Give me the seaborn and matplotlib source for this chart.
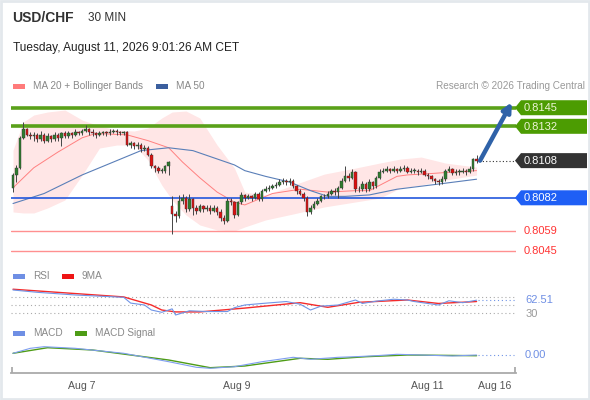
import numpy as np
import pandas as pd
import matplotlib
matplotlib.use("Agg")
import matplotlib.pyplot as plt
import seaborn as sns
from matplotlib.patches import Polygon, Rectangle

# ---- data ----
first_open = 0.8089
gap_opens = {46: 0.8076}   # opening gap candle

closes = [
    0.8098, 0.8103, 0.8124, 0.8130, 0.8126, 0.8125, 0.8126, 0.8123, 0.8126, 0.8122,
    0.8125, 0.8123, 0.8126, 0.8124, 0.8127, 0.8125, 0.8127, 0.8126, 0.8128, 0.8127,
    0.8129, 0.8130, 0.8128, 0.8127, 0.8126, 0.8127, 0.8128, 0.8127, 0.8128, 0.8129,
    0.8128, 0.8127, 0.8128, 0.8119, 0.8120, 0.8118, 0.8119, 0.8116, 0.8117, 0.8112,
    0.8104, 0.8103, 0.8101, 0.8101, 0.8104, 0.8107, 0.8071, 0.8069, 0.8080, 0.8082,
    0.8074, 0.8081, 0.8075, 0.8073, 0.8076, 0.8074, 0.8075, 0.8073, 0.8075, 0.8072,
    0.8068, 0.8066, 0.8080, 0.8079, 0.8070, 0.8079, 0.8084, 0.8082, 0.8083, 0.8082,
    0.8085, 0.8081, 0.8087, 0.8088, 0.8089, 0.8090, 0.8091, 0.8093, 0.8094, 0.8093,
    0.8094, 0.8090, 0.8087, 0.8085, 0.8082, 0.8072, 0.8075, 0.8078, 0.8080, 0.8083,
    0.8083, 0.8085, 0.8087, 0.8086, 0.8089, 0.8094, 0.8097, 0.8096, 0.8100, 0.8088,
    0.8088, 0.8092, 0.8088, 0.8093, 0.8090, 0.8096, 0.8100, 0.8101, 0.8102, 0.8101,
    0.8102, 0.8101, 0.8102, 0.8103, 0.8100, 0.8101, 0.8101, 0.8100, 0.8101, 0.8098,
    0.8097, 0.8095, 0.8094, 0.8093, 0.8095, 0.8101, 0.8102, 0.8099, 0.8100, 0.8100,
    0.8101, 0.8100, 0.8102, 0.8109, 0.8108,
]
highs = [
    0.8099, 0.8105, 0.8125, 0.8135, 0.8131, 0.8128, 0.8128, 0.8127, 0.8129, 0.8127,
    0.8127, 0.8126, 0.8128, 0.8127, 0.8128, 0.8129, 0.8129, 0.8128, 0.8130, 0.8129,
    0.8130, 0.8133, 0.8131, 0.8130, 0.8128, 0.8129, 0.8129, 0.8129, 0.8130, 0.8130,
    0.8130, 0.8129, 0.8129, 0.8129, 0.8122, 0.8121, 0.8121, 0.8120, 0.8119, 0.8118,
    0.8113, 0.8105, 0.8104, 0.8103, 0.8105, 0.8108, 0.8083, 0.8073, 0.8084, 0.8085,
    0.8083, 0.8085, 0.8082, 0.8077, 0.8078, 0.8077, 0.8077, 0.8077, 0.8077, 0.8076,
    0.8074, 0.8070, 0.8082, 0.8082, 0.8080, 0.8080, 0.8086, 0.8085, 0.8085, 0.8084,
    0.8086, 0.8086, 0.8088, 0.8090, 0.8091, 0.8092, 0.8093, 0.8095, 0.8096, 0.8095,
    0.8096, 0.8095, 0.8091, 0.8088, 0.8086, 0.8083, 0.8077, 0.8080, 0.8082, 0.8084,
    0.8085, 0.8087, 0.8088, 0.8089, 0.8090, 0.8096, 0.8104, 0.8099, 0.8102, 0.8101,
    0.8090, 0.8094, 0.8093, 0.8095, 0.8094, 0.8097, 0.8102, 0.8103, 0.8104, 0.8103,
    0.8104, 0.8103, 0.8104, 0.8105, 0.8104, 0.8103, 0.8103, 0.8102, 0.8103, 0.8102,
    0.8099, 0.8098, 0.8096, 0.8095, 0.8097, 0.8102, 0.8104, 0.8103, 0.8102, 0.8102,
    0.8103, 0.8102, 0.8104, 0.8110, 0.8112,
]
lows = [
    0.8086, 0.8093, 0.8102, 0.8123, 0.8125, 0.8123, 0.8122, 0.8121, 0.8122, 0.8120,
    0.8121, 0.8121, 0.8122, 0.8122, 0.8118, 0.8124, 0.8124, 0.8124, 0.8125, 0.8126,
    0.8126, 0.8128, 0.8126, 0.8125, 0.8124, 0.8125, 0.8126, 0.8125, 0.8126, 0.8127,
    0.8126, 0.8126, 0.8126, 0.8118, 0.8117, 0.8116, 0.8116, 0.8114, 0.8115, 0.8111,
    0.8103, 0.8100, 0.8099, 0.8099, 0.8099, 0.8098, 0.8057, 0.8065, 0.8068, 0.8078,
    0.8072, 0.8073, 0.8070, 0.8071, 0.8072, 0.8072, 0.8073, 0.8071, 0.8072, 0.8070,
    0.8066, 0.8064, 0.8065, 0.8077, 0.8068, 0.8069, 0.8078, 0.8080, 0.8081, 0.8080,
    0.8081, 0.8080, 0.8080, 0.8086, 0.8087, 0.8088, 0.8089, 0.8090, 0.8092, 0.8091,
    0.8091, 0.8089, 0.8085, 0.8084, 0.8080, 0.8069, 0.8071, 0.8074, 0.8077, 0.8079,
    0.8081, 0.8082, 0.8084, 0.8084, 0.8082, 0.8088, 0.8093, 0.8094, 0.8095, 0.8086,
    0.8086, 0.8087, 0.8086, 0.8087, 0.8088, 0.8089, 0.8095, 0.8099, 0.8100, 0.8099,
    0.8100, 0.8099, 0.8100, 0.8101, 0.8099, 0.8099, 0.8099, 0.8098, 0.8099, 0.8097,
    0.8095, 0.8094, 0.8092, 0.8091, 0.8092, 0.8094, 0.8100, 0.8098, 0.8098, 0.8098,
    0.8099, 0.8098, 0.8099, 0.8101, 0.8106,
]

ma20_idx = [0, 6, 13, 20, 24, 33, 39, 45, 49, 54, 59, 64, 67, 75, 83, 91, 99, 103,
            107, 111, 114, 121, 127, 134]
ma20_val = [0.8089, 0.8103, 0.8114, 0.8124, 0.8127, 0.8126, 0.8122, 0.8117, 0.8107,
            0.8096, 0.8086, 0.8079, 0.8077, 0.8085, 0.8088, 0.8086, 0.8087, 0.8087,
            0.8092, 0.8097, 0.8098, 0.8099, 0.8100, 0.8101]

ma50_idx = [0, 9, 20, 30, 37, 45, 52, 64, 67, 73, 80, 86, 91, 96, 103, 111, 121, 134]
ma50_val = [0.8078, 0.8085, 0.8098, 0.8108, 0.8115, 0.8117, 0.8115, 0.8105, 0.8101,
            0.8097, 0.8093, 0.8087, 0.8083, 0.8083, 0.8084, 0.8088, 0.8091, 0.8095]

bb_idx = [0, 3, 6, 10, 15, 20, 25, 30, 35, 39, 43, 46, 50, 54, 59, 64, 67, 73, 81,
          90, 99, 106, 112, 118, 125, 134]
bb_upper = [0.81154, 0.81350, 0.81399, 0.81420, 0.81434, 0.81364, 0.81322, 0.81294,
            0.81287, 0.81308, 0.81378, 0.81420, 0.81427, 0.81378, 0.81189, 0.81028,
            0.80860, 0.80839, 0.80909, 0.80986, 0.81028, 0.81063, 0.81091, 0.81105,
            0.81063, 0.81035]
bb_lower = [0.80721, 0.80714, 0.80714, 0.80749, 0.80805, 0.80979, 0.81168, 0.81189,
            0.81189, 0.81084, 0.80909, 0.80805, 0.80700, 0.80630, 0.80595, 0.80588,
            0.80616, 0.80665, 0.80707, 0.80756, 0.80791, 0.80818, 0.80888, 0.80909,
            0.80944, 0.80979]

rsi_idx = [0, 7, 18, 32, 34, 38, 40, 43, 46, 47, 51, 56, 62, 64, 67, 72, 79, 83, 86,
           89, 94, 99, 101, 105, 110, 114, 116, 123, 126, 130, 134]
rsi_val = [89, 83, 76, 70, 55, 50, 37, 31, 40, 24, 35, 33, 33, 43, 50, 54, 59, 52, 37,
           47, 50, 63, 54, 60, 65, 63, 59, 50, 61, 56, 62.51]
rsi_ma_idx = [0, 32, 40, 43, 47, 54, 67, 83, 91, 100, 114, 123, 134]
rsi_ma_val = [91, 71, 50, 37, 32, 32, 42, 56, 44, 57, 63, 54, 59]

# MACD in units of 1e-4
macd_idx = [0, 5, 9, 18, 32, 45, 53, 57, 64, 72, 81, 86, 94, 99, 105, 111, 118, 127, 134]
macd_val = [0.34, 1.34, 1.66, 1.34, 0.34, -1.34, -2.46, -2.66, -2.34, -1.34, -0.46,
            -0.86, -0.46, -0.34, -0.14, 0.14, 0.0, -0.2, 0.0]
sig_idx = [0, 10, 23, 45, 57, 67, 83, 91, 102, 114, 134]
sig_val = [0.34, 1.46, 1.0, -1.0, -2.54, -2.2, -0.66, -0.86, -0.34, 0.0, -0.14]

resistances = [0.8145, 0.8132]
pivot = 0.8082
supports = [0.8059, 0.8045]
last_price = 0.8108
rsi_levels = [70, 50, 30]
rsi_last = 62.51

tick_pos = [19.9, 64.7, 119.7, 139.3]
tick_labels = ["Aug 7", "Aug 9", "Aug 11", "Aug 16"]

# ---- style ----
sns.set_theme(style="white")
plt.rcParams["font.family"] = ["Liberation Sans", "DejaVu Sans"]

W, H = 590, 400
fig = plt.figure(figsize=(W / 100, H / 100), dpi=100)
fig.patch.set_facecolor("white")


def box(left, top, right, bottom):
    return [left / W, 1 - bottom / H, (right - left) / W, (bottom - top) / H]


XLIM = (-0.58, 145.4)

# main price panel
ax = fig.add_axes(box(11, 100, 516, 258))
ax.set_xlim(*XLIM)
ax.set_ylim(0.80399, 0.81504)
ax.set_axis_off()

ax.fill_between(bb_idx, bb_lower, bb_upper, color="#ffe6e6", lw=0, zorder=1)
sns.lineplot(x=ma20_idx, y=ma20_val, ax=ax, color="#ff8080", lw=0.7, zorder=2)
sns.lineplot(x=ma50_idx, y=ma50_val, ax=ax, color="#5a7fb8", lw=0.8, zorder=2)

for lv in resistances:
    ax.axhline(lv, color="#5aa11a", lw=2.6, zorder=2.5)
ax.axhline(pivot, color="#2258dd", lw=1.2, zorder=2.5)
for lv in supports:
    ax.axhline(lv, color="#ff9090", lw=1.0, zorder=2.5)

df = pd.DataFrame({"close": closes, "high": highs, "low": lows})
df["open"] = [first_open] + closes[:-1]
for k, v in gap_opens.items():
    df.loc[k, "open"] = v
df["idx"] = np.arange(len(df))
up = df["close"] >= df["open"]
bottoms = np.minimum(df["open"], df["close"])
heights = np.maximum((df["close"] - df["open"]).abs(), 0.00004)
ax.vlines(df["idx"], df["low"], df["high"], color="#444444", lw=0.7, zorder=3)
ax.bar(df["idx"], heights, bottom=bottoms, width=0.72,
       color=np.where(up, "#2f7d2f", "#dd1111"), edgecolor="#333333",
       linewidth=0.3, zorder=4)

last_i = df["idx"].iloc[-1]
ax.plot([last_i + 0.6, XLIM[1]], [last_price, last_price], color="#333333",
        lw=0.8, ls=(0, (1, 2)), zorder=3)
ax.annotate("", xy=(144.2, 0.81488), xytext=(last_i + 1.0, last_price),
            arrowprops=dict(arrowstyle="-|>", lw=3.2, color="#2f62a8",
                            mutation_scale=13, shrinkA=0, shrinkB=0),
            annotation_clip=False, zorder=6)

# RSI panel
ax_rsi = fig.add_axes(box(11, 286, 516, 318))
ax_rsi.set_xlim(*XLIM)
ax_rsi.set_ylim(16.2, 99.4)
ax_rsi.set_axis_off()
for lv in rsi_levels:
    ax_rsi.axhline(lv, color="#aaaaaa", lw=0.8, ls=(0, (1, 2.5)))
sns.lineplot(x=rsi_ma_idx, y=rsi_ma_val, ax=ax_rsi, color="#f52a2a", lw=1.0)
sns.lineplot(x=rsi_idx, y=rsi_val, ax=ax_rsi, color="#7094e6", lw=0.8)
ax_rsi.plot([rsi_idx[-1] + 0.5, XLIM[1]], [rsi_last, rsi_last], color="#7094e6",
            lw=0.8, ls=(0, (1, 2.5)))

# MACD panel (bottom spine doubles as the time axis)
ax_m = fig.add_axes(box(11, 343, 516, 373))
ax_m.set_xlim(*XLIM)
ax_m.set_ylim(-3.6, 2.4)
sns.lineplot(x=sig_idx, y=sig_val, ax=ax_m, color="#4e9c16", lw=1.0)
sns.lineplot(x=macd_idx, y=macd_val, ax=ax_m, color="#7f9ef0", lw=0.8)
ax_m.plot([macd_idx[-1] + 0.5, XLIM[1] - 0.5], [0, 0], color="#7094e6", lw=0.8,
          ls=(0, (1, 2.5)))
for s in ["top", "left", "right"]:
    ax_m.spines[s].set_visible(False)
ax_m.spines["bottom"].set_color("#aaaaaa")
ax_m.spines["bottom"].set_linewidth(1.3)
ax_m.set_yticks([])
ax_m.set_xticks(tick_pos)
ax_m.set_xticklabels(tick_labels, fontsize=7.6, color="#555555")
ax_m.set_xticks([XLIM[0] + 0.15, XLIM[1] - 0.15], minor=True)
ax_m.tick_params(axis="x", which="major", length=0, pad=6)
ax_m.tick_params(axis="x", which="minor", length=4, width=1.3, color="#aaaaaa",
                 direction="in", bottom=True)
ax_m.set_xlabel("")
ax_m.patch.set_alpha(0)

# overlay for titles, legends, value tags (pixel coordinates, y down)
ov = fig.add_axes([0, 0, 1, 1], zorder=10)
ov.set_xlim(0, W)
ov.set_ylim(H, 0)
ov.set_axis_off()
ov.patch.set_alpha(0)

ov.add_patch(Rectangle((0.5, 0.5), W - 1.5, H - 1.5, fill=False,
                       edgecolor="#e3e8ec", lw=2))
ov.text(12, 18, "USD/CHF", fontsize=10, fontweight="bold", color="#333333",
        va="center")
ov.text(88, 18, "30 MIN", fontsize=8.5, color="#333333", va="center")
ov.text(13, 48, "Tuesday, August 11, 2026 9:01:26 AM CET", fontsize=8.6,
        color="#222222", va="center")

legend_c = "#888888"


def legend_item(x, y, color, label):
    ov.add_patch(Rectangle((x, y - 2.5), 12, 5, color=color, lw=0))
    ov.text(x + 20, y, label, fontsize=7.2, color=legend_c, va="center")


legend_item(13, 86, "#ff7b7b", "MA 20 + Bollinger Bands")
legend_item(156, 86, "#3b5f9e", "MA 50")
ov.text(585, 86, "Research © 2026 Trading Central", fontsize=7.2, color="#999999",
        va="center", ha="right")
legend_item(13, 276, "#6f8fe4", "RSI")
legend_item(62, 276, "#ee1515", "9MA")
legend_item(13, 333, "#6f8fe4", "MACD")
legend_item(75, 333, "#4e9c16", "MACD Signal")


def py(axis, val):
    return H - axis.transData.transform((0, val))[1]


def tag(val, fc, tc="white"):
    yc = py(ax, val)
    pts = [(515, yc), (521, yc - 7.5), (587, yc - 7.5), (587, yc + 7.5),
           (521, yc + 7.5)]
    ov.add_patch(Polygon(pts, closed=True, facecolor=fc, edgecolor="none"))
    ov.text(524, yc + 0.3, f"{val:.4f}", fontsize=8, color=tc, va="center")


for lv in resistances:
    tag(lv, "#4c9c02", "#eef5d8")
tag(last_price, "#333333")
tag(pivot, "#1f5ff5")
for lv in supports:
    ov.text(524, py(ax, lv), f"{lv:.4f}", fontsize=8, color="#ff3333", va="center")

# the 70 / 50 scale labels sit under the current-value label; only 30 shows
ov.text(526, py(ax_rsi, rsi_levels[-1]) + 1, str(rsi_levels[-1]), fontsize=8,
        color="#999999", va="center")
ov.text(525, py(ax_rsi, rsi_last), f"{rsi_last:.2f}", fontsize=8, color="#6f8fe4",
        va="center")
ov.text(525, py(ax_m, 0), "0.00", fontsize=8, color="#6f8fe4", va="center")

fig.savefig("out.png", dpi=100)
